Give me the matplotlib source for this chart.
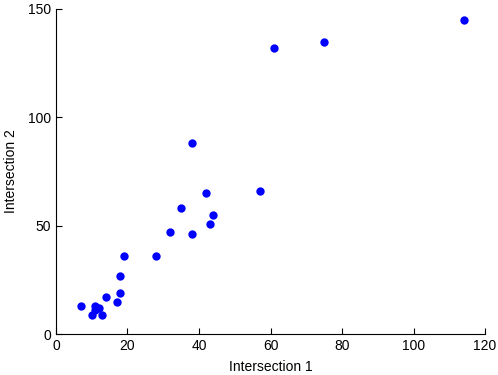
import numpy as np
import matplotlib
matplotlib.use('Agg')
import matplotlib.pyplot as plt

plt.rcParams['font.family'] = 'Liberation Sans'
plt.rcParams['font.size'] = 10

# data
inter1 = [7, 10, 11, 11, 12, 13, 14, 17, 18, 18, 19, 28, 32, 35, 38, 38, 42, 43, 44, 57, 61, 75, 114]
inter2 = [13, 9, 13, 11, 12, 9, 17, 15, 19, 27, 36, 36, 47, 58, 88, 46, 65, 51, 55, 66, 132, 135, 145]

fig = plt.figure(figsize=(4.98, 3.75), dpi=100)
ax = fig.add_axes([0.1124, 0.1093, 0.974 - 0.1124, 0.976 - 0.1093])

ax.plot(inter1, inter2, 'o', color='#0000ff', markersize=6, markeredgewidth=0)

ax.set_xlim(0, 120)
ax.set_ylim(0, 150)
ax.set_xticks(np.arange(0, 121, 20))
ax.set_yticks(np.arange(0, 151, 50))
ax.spines['top'].set_visible(False)
ax.spines['right'].set_visible(False)
ax.tick_params(direction='in', length=4, width=0.8)
ax.set_xlabel('Intersection 1', labelpad=5)
ax.set_ylabel('Intersection 2', labelpad=7)

fig.savefig('out.png', dpi=100)
